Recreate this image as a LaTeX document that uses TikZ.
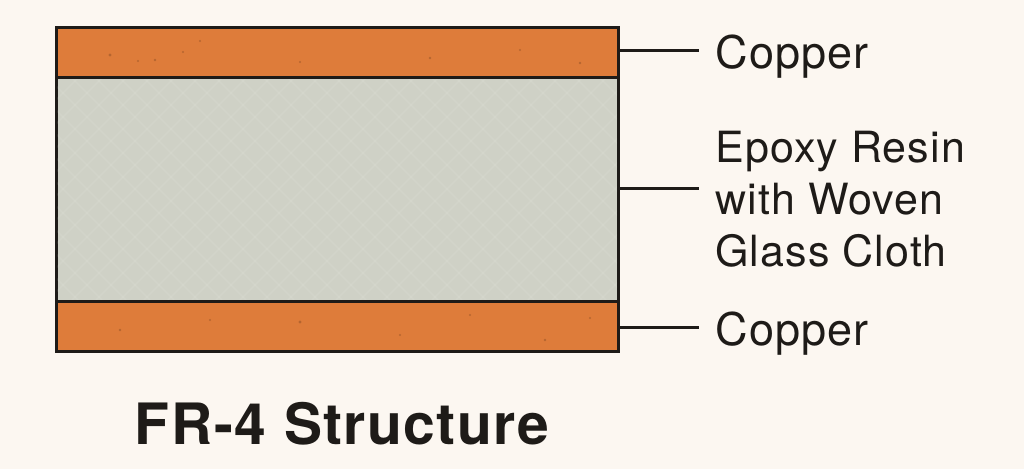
\documentclass[tikz,border=0pt]{standalone}
\usepackage{fontspec}
\setmainfont[LetterSpace=2.5]{TeX Gyre Heros}
\usetikzlibrary{calc}
\definecolor{paper}{HTML}{FCF7F1}
\definecolor{copperc}{HTML}{DE7C3A}
\definecolor{corec}{HTML}{CFD1C6}
\definecolor{inkc}{HTML}{1E1B18}
\tikzset{
  layer/.style={draw=inkc,line width=3pt,minimum width=562pt,inner sep=0pt,anchor=north west,outer sep=0pt},
  cu/.style={layer,fill=copperc,minimum height=50pt},
  core/.style={layer,fill=corec,minimum height=224pt},
  lbl/.style={anchor=west,inner xsep=16.5pt,inner ysep=0pt,text=inkc,font=\fontsize{43}{52}\selectfont,align=left,outer sep=0pt},
  culbl/.style={lbl,font=\fontsize{45}{52}\selectfont},
  leader/.style={draw=inkc,line width=3pt},
  weave/.style={draw=white,opacity=.07,line width=1.6pt},
  speck/.style={fill=black!60!copperc,opacity=.3,draw=none}
}
\begin{document}
\begin{tikzpicture}[x=1pt,y=-1pt]
\fill[paper] (0,0) rectangle (1024,469);
\useasboundingbox (0,0) rectangle (1024,469);
\node[core] (epoxy) at (56,77) {};
\begin{scope}
\clip (57,78) rectangle (617,300);
\foreach \k in {-240,-216,...,860}{
  \draw[weave] (\k,78) -- ++(222,222);
  \draw[weave] (\k,300) -- ++(222,-222);
}
\end{scope}
\node[cu] (top) at (56,27) {};
\node[cu] (bot) at (56,301) {};
\foreach \x/\y/\r in {110/55/1.6,138/61/1.2,155/60/1.3,183/52/1.1,200/41/1.2,300/62/1.2,430/58/1.4,520/50/1.2,580/63/1.3,
  120/330/1.3,210/320/1.2,300/322/1.6,400/335/1.2,470/315/1.2,545/340/1.3,590/318/1.2}
  \fill[speck] (\x,\y) circle (\r);
\node[culbl] (ltop) at (699,50) {\raisebox{-18pt}[0pt][0pt]{Copper}};
\node[lbl] (lmid) at (699,199) {Epoxy Resin\\with Woven\\Glass Cloth};
\node[culbl] (lbot) at (699,327) {\raisebox{-18pt}[0pt][0pt]{Copper}};
\coordinate (mid) at (699,188);
\draw[leader] (top.east |- ltop.west) -- (ltop.west);
\draw[leader] (epoxy.east |- mid) -- (mid);
\draw[leader] (bot.east |- lbot.west) -- (lbot.west);
\node[text=inkc,font=\fontsize{57}{64}\selectfont\bfseries] (title) at (342,424) {FR-4 Structure};
\end{tikzpicture}
\end{document}
